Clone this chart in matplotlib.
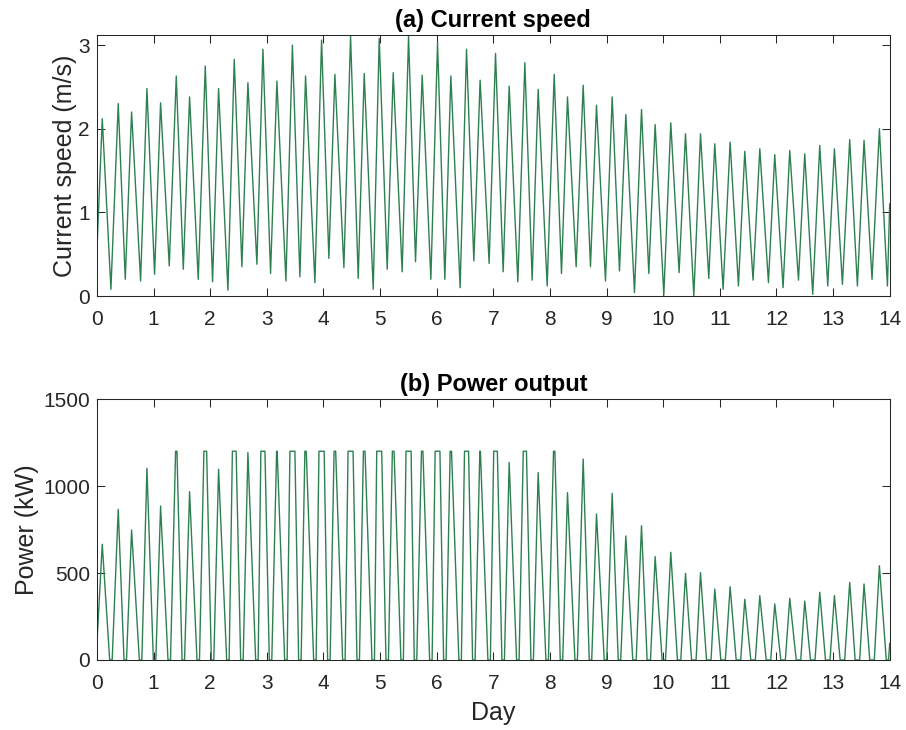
import matplotlib
matplotlib.use("Agg")
import matplotlib.pyplot as plt
import numpy as np

# ---- data (days, m/s, kW) ----
# speed maxima
t_peak = [0.094, 0.376, 0.612, 0.883, 1.124, 1.401, 1.636, 1.913, 2.148, 2.425,
          2.666, 2.931, 3.178, 3.452, 3.684, 3.967, 4.202, 4.479, 4.720, 4.985,
          5.232, 5.503, 5.744, 6.015, 6.250, 6.527, 6.767, 7.039, 7.280, 7.557,
          7.792, 8.075, 8.310, 8.587, 8.822, 9.099, 9.340, 9.617, 9.858, 10.134,
          10.394, 10.659, 10.911, 11.182, 11.441, 11.706, 11.970, 12.235, 12.500, 12.765,
          13.024, 13.294, 13.547, 13.818]
v_peak = [2.12, 2.30, 2.20, 2.48, 2.31, 2.63, 2.38, 2.75, 2.48, 2.83,
          2.55, 2.95, 2.57, 3.00, 2.63, 3.06, 2.65, 3.11, 2.66, 3.08,
          2.67, 3.11, 2.64, 3.03, 2.63, 2.95, 2.58, 2.90, 2.51, 2.79,
          2.47, 2.65, 2.38, 2.52, 2.28, 2.38, 2.17, 2.23, 2.05, 2.07,
          1.94, 1.94, 1.82, 1.84, 1.73, 1.76, 1.69, 1.74, 1.70, 1.80,
          1.76, 1.87, 1.86, 2.00]
# speed minima (one after each maximum)
t_trough = [0.247, 0.500, 0.771, 1.018, 1.277, 1.525, 1.789, 2.042, 2.313, 2.560,
            2.825, 3.066, 3.337, 3.584, 3.849, 4.096, 4.361, 4.614, 4.879, 5.126,
            5.390, 5.626, 5.897, 6.144, 6.414, 6.656, 6.926, 7.174, 7.433, 7.686,
            7.951, 8.204, 8.463, 8.716, 8.981, 9.228, 9.493, 9.746, 10.011, 10.281,
            10.541, 10.805, 11.058, 11.329, 11.587, 11.859, 12.117, 12.389, 12.641, 12.906,
            13.165, 13.430, 13.688, 13.960]
v_trough = [0.08, 0.20, 0.18, 0.26, 0.36, 0.32, 0.20, 0.17, 0.07, 0.35,
            0.38, 0.27, 0.18, 0.23, 0.16, 0.45, 0.34, 0.21, 0.08, 0.32,
            0.29, 0.41, 0.20, 0.20, 0.10, 0.42, 0.39, 0.29, 0.17, 0.19,
            0.12, 0.27, 0.35, 0.35, 0.18, 0.30, 0.04, 0.27, 0.01, 0.28,
            0.00, 0.21, 0.08, 0.12, 0.19, 0.16, 0.10, 0.19, 0.02, 0.12,
            0.14, 0.12, 0.20, 0.12]
v_start, v_end = 0.55, 1.10

# power maxima at the same times as the speed maxima
p_peak = [665, 866, 747, 1102, 885, 1200, 967, 1200, 1096, 1200,
          1192, 1200, 1200, 1200, 1200, 1200, 1200, 1200, 1200, 1200,
          1200, 1200, 1200, 1200, 1200, 1200, 1200, 1200, 1136, 1200,
          1077, 1200, 962, 1155, 839, 958, 713, 772, 594, 619,
          498, 502, 408, 421, 349, 370, 322, 354, 339, 389,
          370, 446, 437, 542]
# half width (days) of the flat rated-power top of each peak
p_top = [0, 0, 0, 0, 0, 0.012, 0, 0.024, 0, 0.033,
         0, 0.036, 0.005, 0.044, 0.012, 0.046, 0.014, 0.044, 0.014, 0.044,
         0.015, 0.045, 0.013, 0.042, 0.012, 0.036, 0.005, 0.032, 0, 0.028,
         0, 0.012, 0, 0, 0, 0, 0, 0, 0, 0,
         0, 0, 0, 0, 0, 0, 0, 0, 0, 0,
         0, 0, 0, 0]
# half width (days) of the zero-power stretch around each speed minimum
p_gap = [0.022] * 36 + [0.03] * 4 + [0.04] * 13 + [0.02]
p_start, p_end = 98, 96

T_END = 14.0
GREEN = '#2e8050'
EDGE = '#262626'

# speed line: start, then alternate max / min, then end
ts = [0.0]
vs = [v_start]
for tp, vp, tt, vt in zip(t_peak, v_peak, t_trough, v_trough):
    ts += [tp, tt]
    vs += [vp, vt]
ts.append(T_END)
vs.append(v_end)

# power line
tq = [0.0]
pq = [p_start]
for tp, pp, w, tt, g in zip(t_peak, p_peak, p_top, t_trough, p_gap):
    if w > 0:
        tq += [tp - w, tp + w]
        pq += [pp, pp]
    else:
        tq.append(tp)
        pq.append(pp)
    tq += [tt - g, tt + g]
    pq += [0, 0]
tq.append(T_END)
pq.append(p_end)

plt.rcParams['font.family'] = ['Liberation Sans', 'DejaVu Sans']

fig = plt.figure(figsize=(9.06, 7.30), dpi=100)
ax1 = fig.add_axes([0.107, 0.5945, 0.875, 0.3575])
ax2 = fig.add_axes([0.107, 0.0959, 0.875, 0.3575])

ax1.plot(ts, vs, color=GREEN, lw=1.0)
ax2.plot(tq, pq, color=GREEN, lw=1.0)

ax1.set_ylim(0, 3.12)
ax1.set_yticks([0, 1, 2, 3])
ax2.set_ylim(0, 1500)
ax2.set_yticks([0, 500, 1000, 1500])

for ax in (ax1, ax2):
    ax.set_xlim(0, T_END)
    ax.set_xticks(range(0, 15))
    ax.tick_params(direction='in', top=True, right=True, length=5.8,
                   width=0.75, color=EDGE, labelsize=15, labelcolor=EDGE)
    ax.tick_params(axis='x', pad=10)
    ax.tick_params(axis='y', pad=5)
    for s in ax.spines.values():
        s.set_color(EDGE)
        s.set_linewidth(0.75)

ax1.set_title('(a) Current speed', fontsize=17, fontweight='bold', pad=6)
ax2.set_title('(b) Power output', fontsize=17, fontweight='bold', pad=6)
ax1.set_ylabel('Current speed (m/s)', fontsize=18, color=EDGE, labelpad=1)
ax2.set_ylabel('Power (kW)', fontsize=18, color=EDGE, labelpad=3)
ax2.set_xlabel('Day', fontsize=18, color=EDGE, labelpad=6)

fig.savefig('out.png', dpi=100)
